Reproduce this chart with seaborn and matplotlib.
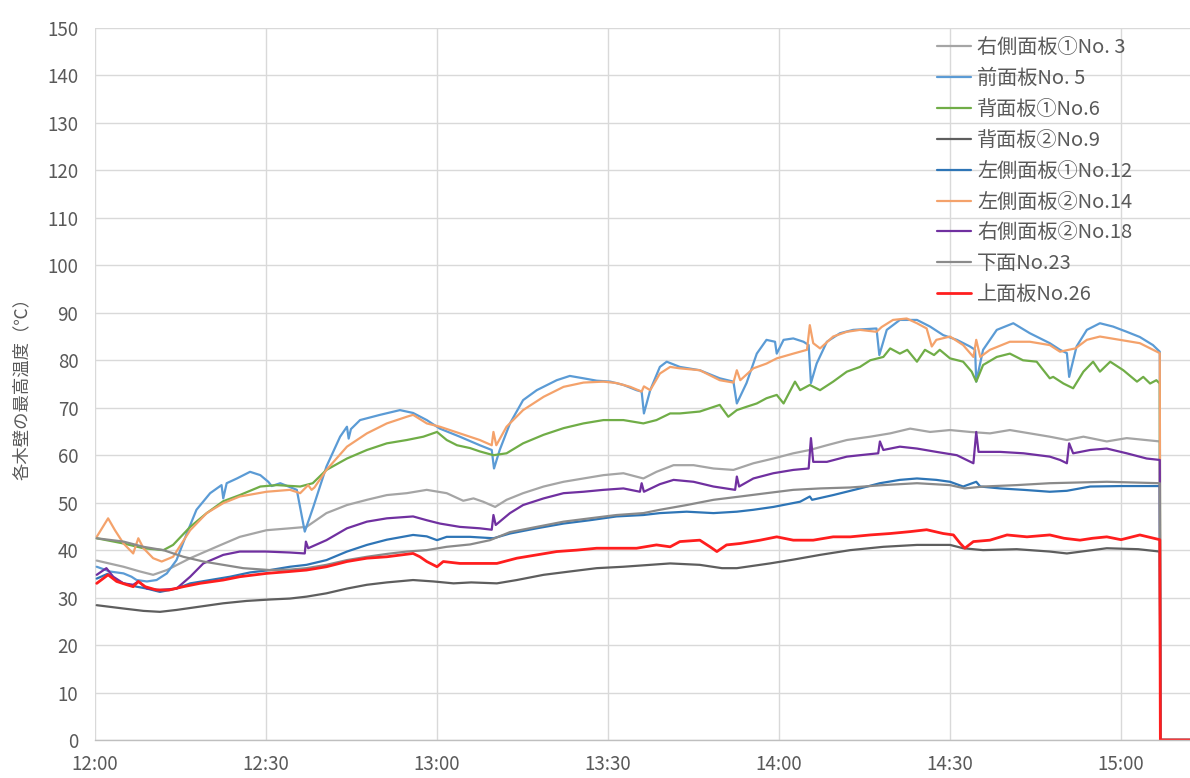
import matplotlib
matplotlib.use("Agg")
import matplotlib.pyplot as plt
import seaborn as sns
import pandas as pd

# elapsed minutes from 12:00, temperature (degC) for each sensor
NO3 = [(0.3, 37.8), (5, 36.5), (7.9, 35.5), (10.2, 34.8), (12.6, 35.8), (16.7, 38.3), (21.3, 40.7),
       (25.4, 42.8), (30.1, 44.2), (34.2, 44.6), (37.1, 44.9), (40.6, 47.8), (44.2, 49.5), (47.7, 50.6),
       (51.2, 51.6), (54.7, 52.0), (58.2, 52.7), (61.7, 52.0), (64.6, 50.4), (66.4, 50.9), (68.1, 50.2),
       (70.2, 49.1), (72.2, 50.6), (75.1, 52.0), (78.7, 53.4), (82.2, 54.4), (85.7, 55.1), (89.2, 55.8),
       (92.7, 56.2), (96.2, 55.1), (98.5, 56.5), (101.5, 57.9), (105, 57.9), (108.5, 57.2), (112, 56.9),
       (115.5, 58.3), (119, 59.3), (122.5, 60.4), (125.4, 61.1), (128.4, 62.1), (131.9, 63.2),
       (134.2, 63.6), (136, 63.9), (139.5, 64.6), (143, 65.6), (146.5, 64.9), (150, 65.3), (153.5, 64.9),
       (157, 64.6), (160.5, 65.3), (164, 64.6), (167.5, 63.9), (170.5, 63.2), (173.4, 63.9),
       (177.5, 62.9), (181, 63.6), (186.8, 62.9)]

NO5 = [(0.3, 36.5), (2.6, 35.5), (5, 35.1), (6.4, 34.4), (7.3, 33.7), (9.1, 33.4), (10.8, 33.7),
       (12.6, 35.1), (14.3, 37.9), (16.1, 43.5), (17.8, 48.5), (20.2, 52.0), (22.2, 53.7), (22.5, 50.9),
       (23.1, 54.1), (24.9, 55.1), (27.2, 56.5), (29, 55.8), (30.4, 54.4), (31, 53.5), (32.5, 54.1),
       (35.4, 52.7), (36.8, 43.9), (38.3, 49.1), (40.6, 57.6), (43, 63.9), (44.2, 66.0), (44.5, 63.5),
       (44.9, 65.5), (46.5, 67.4), (50, 68.5), (53.5, 69.5), (55.8, 68.9), (58.2, 67.4), (60.5, 65.6),
       (64, 63.9), (67.5, 62.1), (69.6, 61.1), (70, 57.2), (71, 61.1), (72.8, 66.7), (75.1, 71.6),
       (77.5, 73.7), (81, 75.8), (83.3, 76.7), (85.7, 76.2), (88, 75.7), (90.4, 75.5), (92.7, 74.8),
       (95, 73.7), (95.9, 73.4), (96.3, 68.8), (97.4, 73.7), (99.1, 78.6), (100.3, 79.7), (102.6, 78.6),
       (106.1, 77.9), (109.6, 76.2), (112, 75.5), (112.6, 70.9), (114.3, 75.2), (116.1, 81.4),
       (117.8, 84.3), (119.3, 83.9), (119.6, 81.4), (120.8, 84.3), (122.5, 84.6), (124.3, 83.9),
       (125.2, 83.2), (125.6, 75.2), (126.6, 79.3), (128.4, 83.9), (130.7, 85.7), (133, 86.4),
       (137.1, 86.7), (137.6, 81.1), (138.9, 86.4), (141.2, 88.5), (144.2, 88.5), (146.5, 87.1),
       (148.8, 85.3), (151.2, 84.3), (153.5, 82.9), (154.4, 82.2), (154.6, 75.5), (155.8, 82.2),
       (158.2, 86.4), (161.1, 87.8), (164, 85.7), (167.5, 83.6), (169.3, 82.2), (170.5, 81.5),
       (170.9, 76.5), (172.2, 82.9), (174, 86.4), (176.3, 87.8), (178.6, 87.1), (181, 86.0),
       (183.3, 84.9), (185.6, 83.2), (186.8, 81.8)]

NO6 = [(0.3, 42.5), (5, 41.4), (8.5, 40.4), (12, 40.0), (13.7, 41.1), (16.7, 44.9), (19.6, 47.8),
       (22.5, 50.3), (25.4, 51.6), (29, 53.4), (31.9, 53.7), (36, 53.4), (38.2, 54.1), (40.6, 56.9),
       (44.2, 59.3), (47.7, 61.1), (51.2, 62.5), (54.7, 63.2), (57.6, 63.9), (60, 64.9), (61.7, 63.2),
       (63.5, 62.1), (65.8, 61.5), (67.5, 60.8), (69.9, 60.0), (72.2, 60.4), (75.1, 62.5), (78.7, 64.3),
       (82.2, 65.7), (85.7, 66.7), (89.2, 67.4), (92.7, 67.4), (96.2, 66.7), (98.5, 67.4), (100.9, 68.8),
       (102.6, 68.8), (106.1, 69.2), (109.6, 70.6), (111.1, 68.1), (112.6, 69.5), (114.3, 70.2),
       (116.1, 70.9), (117.8, 72.0), (119.6, 72.7), (120.8, 70.9), (122.8, 75.5), (123.7, 73.7),
       (125.4, 74.8), (127.2, 73.7), (129.5, 75.5), (131.9, 77.6), (134.2, 78.6), (136, 80.0),
       (138.3, 80.7), (139.5, 82.5), (141.2, 81.4), (142.5, 82.2), (144.2, 79.7), (145.6, 82.2),
       (147.2, 81.1), (148.2, 82.2), (150, 80.4), (152.3, 79.7), (153.8, 77.6), (154.6, 75.5),
       (155.8, 79.0), (158.2, 80.7), (160.5, 81.4), (162.8, 80.0), (165.2, 79.7), (167.5, 76.2),
       (168.1, 76.5), (169.9, 75.1), (171.6, 74.1), (173.4, 77.6), (175.1, 79.7), (176.3, 77.6),
       (178.1, 79.7), (180.4, 77.9), (182.8, 75.5), (183.9, 76.5), (185.1, 75.1), (186.2, 75.8),
       (186.8, 75.1)]

NO9 = [(0.3, 28.4), (5, 27.7), (8.5, 27.2), (11.4, 27.0), (14.3, 27.4), (18.4, 28.1), (22.5, 28.8),
       (26.6, 29.3), (30.7, 29.6), (34.2, 29.8), (37.1, 30.2), (40.6, 30.9), (44.2, 31.9), (47.7, 32.7),
       (51.2, 33.2), (55.8, 33.7), (59.4, 33.4), (62.9, 33.0), (66, 33.2), (70.5, 33.0), (74, 33.7),
       (78.7, 34.8), (83.3, 35.5), (88, 36.2), (92.7, 36.5), (97.4, 36.9), (100.9, 37.2), (106.1, 36.9),
       (110, 36.2), (112.6, 36.2), (118.4, 37.2), (122.5, 38.0), (127.2, 39.0), (132.5, 40.0),
       (138.3, 40.7), (144.2, 41.1), (150, 41.1), (152.3, 40.4), (155.8, 40.0), (161.7, 40.2),
       (167.5, 39.7), (170.5, 39.3), (177.5, 40.4), (183, 40.2), (186.8, 39.7)]

NO12 = [(0.3, 34.0), (2.2, 35.0), (3.8, 33.6), (5, 33.0), (7.3, 32.3), (9.1, 31.9), (11.4, 31.2),
        (14.3, 31.9), (16.7, 33.0), (20.2, 33.7), (23.7, 34.4), (27.2, 35.3), (30.7, 35.8), (34.2, 36.5),
        (37.1, 36.9), (40.6, 37.9), (44.2, 39.7), (47.7, 41.1), (51.2, 42.2), (55.8, 43.2), (58.2, 42.9),
        (60, 42.1), (61.7, 42.8), (65.8, 42.8), (69.9, 42.5), (72.8, 43.5), (77.5, 44.6), (82.2, 45.6),
        (86.8, 46.3), (91.5, 47.1), (96.2, 47.4), (99.1, 47.8), (103.8, 48.1), (108.5, 47.8),
        (112.6, 48.1), (115.5, 48.5), (119, 49.1), (123.7, 50.2), (125.4, 51.3), (125.8, 50.6),
        (129.5, 51.6), (134.2, 53.0), (137.7, 54.1), (141.2, 54.8), (144.2, 55.1), (147.6, 54.8),
        (150, 54.4), (152.3, 53.4), (154.6, 54.4), (155.3, 53.4), (158.8, 53.0), (162.9, 52.7),
        (167.5, 52.3), (170.5, 52.5), (174.6, 53.4), (180, 53.5), (186.8, 53.5)]

NO14 = [(0.3, 42.8), (2.3, 46.7), (3.5, 44.2), (5, 41.4), (6.7, 39.3), (7.6, 42.5), (8.5, 40.4),
        (10.2, 38.3), (11.7, 37.6), (13.7, 38.6), (16.7, 44.2), (19.6, 47.8), (22.5, 49.9), (25.4, 51.3),
        (30.1, 52.3), (34.2, 52.7), (36, 52.0), (37.4, 53.7), (38, 52.7), (38.5, 53.2), (40.6, 56.9),
        (44.2, 61.8), (47.7, 64.6), (51.2, 66.7), (54.7, 68.1), (55.8, 68.5), (58.2, 66.7), (60.5, 66.0),
        (64, 64.6), (67.5, 63.2), (69.6, 62.1), (69.9, 64.9), (70.4, 62.1), (72.2, 66.0), (75.1, 69.5),
        (78.7, 72.3), (82.2, 74.4), (85.7, 75.3), (89.2, 75.5), (91.5, 75.2), (93.9, 74.4), (95.9, 73.4),
        (96.3, 74.5), (97.4, 73.7), (99.1, 77.2), (100.9, 78.6), (102.6, 78.3), (106.1, 77.9),
        (109.6, 75.8), (112, 75.3), (112.6, 77.9), (113.2, 75.8), (115.5, 78.3), (117.8, 79.3),
        (119.6, 80.4), (122.5, 81.4), (124.9, 82.2), (125.4, 87.4), (126, 83.6), (127.2, 82.5),
        (129.5, 85.0), (131.9, 86.0), (134.2, 86.4), (137.1, 86.0), (138, 87.0), (140, 88.5),
        (142.4, 88.8), (144.2, 87.8), (145.9, 86.7), (146.8, 82.9), (147.6, 84.3), (150, 85.0),
        (152.3, 83.2), (154.1, 80.7), (154.6, 84.3), (155.3, 80.7), (157, 82.2), (160.5, 83.9),
        (164, 83.9), (167.5, 83.2), (169.3, 81.8), (170.8, 82.2), (172, 82.5), (174, 84.3),
        (176.3, 85.0), (179.8, 84.3), (183.3, 83.6), (186.8, 81.5)]

NO18 = [(0.3, 34.8), (2, 36.2), (3.2, 34.4), (5, 33.0), (6.7, 32.7), (7.6, 33.4), (9.1, 31.9),
        (11.4, 31.6), (14.3, 31.9), (16.7, 34.4), (19, 37.2), (22.5, 39.0), (25.4, 39.7), (30, 39.7),
        (34.2, 39.5), (36.8, 39.3), (37, 41.8), (37.4, 40.4), (40.6, 42.1), (44.2, 44.6), (47.7, 46.0),
        (51.2, 46.7), (55.8, 47.1), (58.2, 46.3), (60.5, 45.6), (64, 44.9), (67.5, 44.6), (69.6, 44.3),
        (69.9, 47.4), (70.3, 45.3), (72.8, 47.8), (75.1, 49.5), (78.7, 50.9), (82.2, 52.0), (85.7, 52.3),
        (89.2, 52.7), (92.7, 53.0), (95.6, 52.3), (95.9, 54.1), (96.3, 52.3), (99.1, 53.9),
        (101.5, 54.8), (105, 54.4), (108.5, 53.4), (112.3, 52.7), (112.6, 55.5), (113, 53.4),
        (115.5, 55.1), (119, 56.2), (122.5, 56.9), (125.2, 57.2), (125.6, 63.6), (126, 58.6),
        (128.4, 58.6), (131.9, 59.7), (134.2, 60.0), (137.4, 60.4), (137.7, 62.9), (138.3, 61.1),
        (141.2, 61.8), (144.2, 61.4), (147.6, 60.7), (151.2, 60.0), (154.1, 58.3), (154.6, 64.9),
        (155, 60.7), (158.8, 60.7), (162.9, 60.4), (167.5, 59.7), (169.3, 59.0), (170.5, 58.3),
        (170.9, 62.5), (171.6, 60.4), (174.6, 61.1), (177.5, 61.4), (181, 60.4), (184.5, 59.3),
        (186.8, 59.0)]

NO23 = [(0.3, 42.5), (5, 41.8), (8.5, 40.7), (12, 40.0), (15.5, 38.6), (19, 37.6), (22.5, 36.9),
        (26, 36.2), (30.7, 35.8), (34.2, 35.9), (37.1, 36.2), (40.6, 36.9), (44.2, 37.9), (47.7, 38.6),
        (51.2, 39.2), (54.7, 39.7), (58.2, 40.0), (61.7, 40.7), (65.8, 41.2), (69.3, 42.1), (72.8, 43.8),
        (77.5, 44.9), (82.2, 46.0), (86.8, 46.7), (91.5, 47.4), (96.2, 47.8), (99.1, 48.5),
        (103.8, 49.5), (108.5, 50.6), (113.2, 51.3), (117.8, 52.0), (122.5, 52.7), (127.2, 53.0),
        (132.5, 53.2), (138.3, 53.7), (144.2, 54.1), (150, 53.7), (152.6, 53.0), (155.8, 53.4),
        (161.7, 53.7), (167.5, 54.1), (177.5, 54.4), (186.8, 54.1)]

NO26 = [(0.3, 33.0), (2.3, 34.8), (3.8, 33.4), (5.6, 32.7), (6.7, 32.3), (7.6, 33.4), (8.8, 32.3),
        (10.8, 31.6), (13, 31.6), (15.5, 32.3), (18.4, 33.0), (22.5, 33.7), (25.4, 34.4), (30.1, 35.1),
        (34.2, 35.5), (37.1, 35.8), (40.6, 36.5), (44.2, 37.6), (47.7, 38.3), (51.2, 38.6), (55.8, 39.3),
        (57, 38.6), (58.2, 37.6), (60, 36.5), (61.1, 37.6), (64, 37.2), (67.5, 37.2), (70.5, 37.2),
        (74, 38.3), (77.5, 39.0), (81, 39.7), (84.5, 40.0), (88, 40.4), (91.5, 40.4), (95, 40.4),
        (98.5, 41.1), (100.9, 40.7), (102.6, 41.8), (106.1, 42.1), (107.9, 40.7), (109.1, 39.7),
        (110.8, 41.1), (113.2, 41.4), (116.7, 42.1), (119.6, 42.8), (122.5, 42.1), (126, 42.1),
        (129.5, 42.8), (132.5, 42.8), (136, 43.2), (139.5, 43.5), (143, 43.9), (145.9, 44.3),
        (148.8, 43.5), (150.6, 43.2), (151.8, 41.4), (152.6, 40.4), (154.1, 41.8), (157, 42.1),
        (160, 43.2), (163.5, 42.8), (167.5, 43.2), (170, 42.5), (172.8, 42.1), (175, 42.5),
        (177.5, 42.8), (180, 42.2), (183.3, 43.2), (186.8, 42.2)]

# logger stops: every channel reads 0 afterwards
STOP = [(186.9, 0.0), (195.0, 0.0)]

SERIES = ["右側面板①No. 3", "前面板No. 5", "背面板①No.6", "背面板②No.9", "左側面板①No.12",
          "左側面板②No.14", "右側面板②No.18", "下面No.23", "上面板No.26"]
DATA = [NO3, NO5, NO6, NO9, NO12, NO14, NO18, NO23, NO26]
COLORS = ["#A5A5A5", "#5B9BD5", "#70AD47", "#5E5E5E", "#2E75B6",
          "#F4A26B", "#7030A0", "#8A8A8A", "#FF1E1E"]
WIDTHS = [1.6, 1.6, 1.6, 1.6, 1.6, 1.6, 1.6, 1.6, 2.0]

X_TICKS = [0, 30, 60, 90, 120, 150, 180]
X_LABELS = ["12:00", "12:30", "13:00", "13:30", "14:00", "14:30", "15:00"]
Y_TICKS = list(range(0, 151, 10))

sns.set_theme(style="whitegrid")
plt.rcParams["font.family"] = ["Noto Sans CJK JP", "DejaVu Sans"]
plt.rcParams["axes.unicode_minus"] = False

fig = plt.figure(figsize=(11.9, 7.78), dpi=100)
ax = fig.add_axes([95 / 1190, 1 - 740 / 778, 1095 / 1190, 712 / 778])

frames = []
for name, pts in zip(SERIES, DATA):
    d = pd.DataFrame(pts + STOP, columns=["minute", "temp"])
    d["sensor"] = name
    frames.append(d)
df = pd.concat(frames, ignore_index=True)

for name, col, lw in zip(SERIES, COLORS, WIDTHS):
    sns.lineplot(data=df[df["sensor"] == name], x="minute", y="temp", color=col,
                 linewidth=lw, estimator=None, sort=False, label=name, ax=ax)

ax.set_xlim(0, 192.1)
ax.set_ylim(0, 150)
ax.set_xticks(X_TICKS)
ax.set_xticklabels(X_LABELS)
ax.set_yticks(Y_TICKS)

grid_c = "#D9D9D9"
ax.grid(True, color=grid_c, linewidth=1.0)
for s in ["top", "right", "left"]:
    ax.spines[s].set_visible(False)
ax.spines["bottom"].set_color("#BFBFBF")
ax.spines["bottom"].set_linewidth(1.0)
ax.set_facecolor("white")

ax.tick_params(axis="both", length=0, labelsize=13.5, colors="#595959")
ax.tick_params(axis="y", pad=12)
ax.tick_params(axis="x", pad=10)
ax.set_xlabel("")
ax.set_ylabel("各木壁の最高温度（℃）", fontsize=12.5, color="#595959", labelpad=12)

handles, labels = ax.get_legend_handles_labels()
leg = ax.legend(handles, labels, loc="upper left", bbox_to_anchor=(0.769, 0.987),
                frameon=False, fontsize=14.5, borderpad=0, borderaxespad=0,
                handlelength=1.7, handletextpad=0.3, labelspacing=0.49)
for t in leg.get_texts():
    t.set_color("#595959")

fig.savefig("out.png", dpi=100, facecolor="white")
